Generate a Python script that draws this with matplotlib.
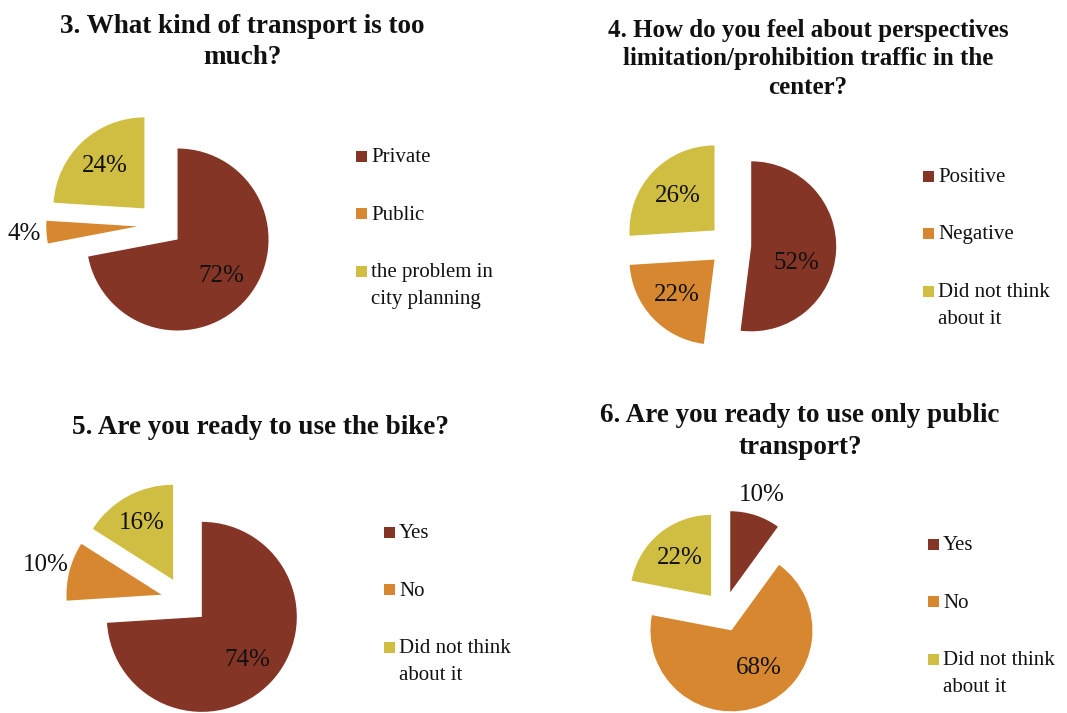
import matplotlib
matplotlib.use("Agg")
import matplotlib.pyplot as plt
import numpy as np

W, H = 1067, 713

# ---------------- data ----------------
title3 = "3. What kind of transport is too\nmuch?"
labels3 = ["Private", "Public", "the problem in\ncity planning"]
values3 = [72, 4, 24]

title4 = "4. How do you feel about perspectives\nlimitation/prohibition traffic in the\ncenter?"
labels4 = ["Positive", "Negative", "Did not think\nabout it"]
values4 = [52, 22, 26]

title5 = "5. Are you ready to use the bike?"
labels5 = ["Yes", "No", "Did not think\nabout it"]
values5 = [74, 10, 16]

title6 = "6. Are you ready to use only public\ntransport?"
labels6 = ["Yes", "No", "Did not think\nabout it"]
values6 = [10, 68, 22]

colors = ["#843526", "#D6872F", "#D0BE42"]

# ---------------- layout (pixel coords, y from top) ----------------
charts = [
    dict(title=title3, labels=labels3, values=values3,
         center=(160, 225), r=91, pct=[0.63, 1.24, 0.64], pang=[0, 0, 0],
         tpos=(242, 14), tsize=19.5, tls=1.32, leg=(356, 156)),
    dict(title=title4, labels=labels4, values=values4,
         center=(730, 245), r=85, pct=[0.57, 0.61, 0.60], pang=[-17, 0, 0],
         tpos=(808, 19), tsize=18, tls=1.3, leg=(923, 176)),
    dict(title=title5, labels=labels5, values=values5,
         center=(184.5, 600.6), r=95, pct=[0.66, 1.26, 0.68], pang=[0, 0, 0],
         tpos=(261, 415), tsize=19.5, tls=1.3, leg=(384, 532)),
    dict(title=title6, labels=labels6, values=values6,
         center=(724, 611.5), r=81, pct=[1.26, 0.57, 0.61], pang=[0, 14, 0],
         tpos=(800, 403), tsize=19.5, tls=1.36, leg=(928, 544)),
]

SERIF = ["Liberation Serif", "DejaVu Serif"]
TXT = "#111111"

fig = plt.figure(figsize=(W / 100, H / 100), dpi=100)
ax = fig.add_axes([0, 0, 1, 1])

for ch in charts:
    cx, cy = ch["center"]
    r = ch["r"]
    wedges, _ = ax.pie(ch["values"], colors=colors, startangle=90,
                       counterclock=False, radius=r,
                       center=(cx, H - cy),
                       explode=[0.25 * r] * len(ch["values"]),
                       wedgeprops=dict(linewidth=0), frame=True)
    # percentage labels
    tot = float(sum(ch["values"]))
    for w, v, d, da in zip(wedges, ch["values"], ch["pct"], ch["pang"]):
        th = np.deg2rad(0.5 * (w.theta1 + w.theta2) + da)
        x0, y0 = w.center
        ax.text(x0 + d * r * np.cos(th), y0 + d * r * np.sin(th),
                f"{v / tot * 100:.0f}%", ha="center", va="center",
                fontsize=18, family=SERIF, color=TXT)
    # title
    tx, ty = ch["tpos"]
    ax.text(tx, H - ty, ch["title"], ha="center", va="top",
            fontsize=ch["tsize"], fontweight="bold", family=SERIF,
            color=TXT, linespacing=ch["tls"])
    # legend
    lx, ly = ch["leg"]
    for i, (lab, col) in enumerate(zip(ch["labels"], colors)):
        sy = ly + i * 57.5
        ax.add_patch(plt.Rectangle((lx, H - sy - 5.5), 11, 11, color=col, lw=0))
        ax.text(lx + 15, H - sy + 8, lab, ha="left", va="top",
                fontsize=15, family=SERIF, color=TXT, linespacing=1.55)

ax.set_xlim(0, W)
ax.set_ylim(0, H)
ax.set_aspect("auto")
ax.axis("off")
ax.set_position([0, 0, 1, 1])

fig.savefig("out.png", dpi=100, facecolor="white")
